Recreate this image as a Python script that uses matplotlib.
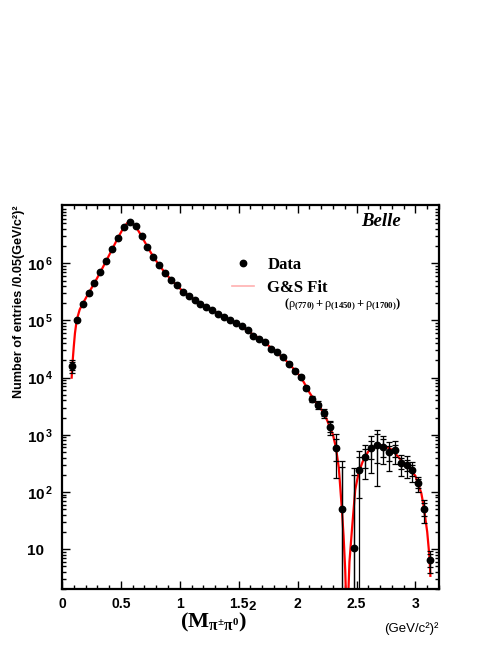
import numpy as np
import matplotlib
matplotlib.use("Agg")
import matplotlib.pyplot as plt
from matplotlib.lines import Line2D
from matplotlib.ticker import MultipleLocator, LogLocator, NullFormatter

plt.rcParams['font.family'] = ['Liberation Sans', 'DejaVu Sans']
plt.rcParams['mathtext.fontset'] = 'custom'
plt.rcParams['mathtext.bf'] = 'Liberation Sans:bold'
plt.rcParams['mathtext.rm'] = 'Liberation Serif:bold'
plt.rcParams['mathtext.it'] = 'Liberation Serif'

# data points (bin centres, 0.05 GeV^2 bins)
mass2 = [0.0875, 0.125, 0.175, 0.225, 0.275, 0.325, 0.375, 0.425, 0.475, 0.525,
         0.575, 0.625, 0.675, 0.725, 0.775, 0.825, 0.875, 0.925, 0.975, 1.025,
         1.075, 1.125, 1.175, 1.225, 1.275, 1.325, 1.375, 1.425, 1.475, 1.525,
         1.575, 1.625, 1.675, 1.725, 1.775, 1.825, 1.875, 1.925, 1.975, 2.025,
         2.075, 2.125, 2.175, 2.225, 2.275, 2.325, 2.375, 2.475, 2.525, 2.575,
         2.625, 2.675, 2.725, 2.775, 2.825, 2.875, 2.925, 2.975, 3.025, 3.075,
         3.125]
entries = [1.6e4, 1.02e5, 1.94e5, 2.99e5, 4.47e5, 7.05e5, 1.10e6, 1.76e6, 2.80e6, 4.31e6,
           5.21e6, 4.49e6, 3.0e6, 1.95e6, 1.29e6, 9.3e5, 6.77e5, 5.16e5, 4.12e5, 3.2e5,
           2.72e5, 2.3e5, 1.95e5, 1.74e5, 1.55e5, 1.3e5, 1.17e5, 1.0e5, 8.9e4, 7.85e4,
           6.7e4, 5.36e4, 4.75e4, 4.16e4, 3.18e4, 2.78e4, 2.27e4, 1.76e4, 1.33e4, 1.04e4,
           6.6e3, 4.24e3, 3.33e3, 2.39e3, 1.39e3, 597, 50, 10.4, 243, 416,
           583, 666, 622, 497, 545, 318, 298, 243, 143, 50.6,
           6.5]
err_total = [4000, 1500, 2500, 3500, 5000, 7000, 10000, 15000, 22000, 32000,
             38000, 34000, 25000, 17000, 12000, 9000, 7000, 6000, 5000, 4000,
             3500, 3000, 2700, 2500, 2300, 2100, 2000, 1800, 1700, 1600,
             1500, 1400, 1300, 1200, 1100, 1000, 900, 800, 700, 650,
             600, 450, 500, 420, 380, 420, 300, 250, 270, 245,
             370, 540, 315, 260, 235, 125, 120, 95, 42, 22,
             2.7]
err_stat = [2500, 900, 1500, 2100, 3000, 4200, 6000, 9000, 13000, 19000,
            23000, 20000, 15000, 10000, 7000, 5400, 4200, 3600, 3000, 2400,
            2100, 1800, 1600, 1500, 1400, 1300, 1200, 1100, 1000, 950,
            900, 850, 800, 700, 650, 600, 550, 500, 420, 400,
            350, 250, 250, 220, 250, 250, 225, 190, 165, 150,
            200, 350, 220, 150, 130, 70, 70, 55, 25, 13,
            1.6]

# G&S fit curve
fit_x = [0.082, 0.09, 0.10, 0.11, 0.125, 0.15, 0.175, 0.225, 0.275, 0.325,
         0.375, 0.425, 0.475, 0.525, 0.555, 0.575, 0.595, 0.625, 0.675, 0.725,
         0.775, 0.825, 0.875, 0.925, 0.975, 1.025, 1.1, 1.2, 1.3, 1.4,
         1.5, 1.6, 1.7, 1.8, 1.9, 2.0, 2.05, 2.1, 2.15, 2.2,
         2.25, 2.3, 2.325, 2.35, 2.376, 2.39, 2.404, 2.413, 2.421, 2.432,
         2.44, 2.461, 2.489, 2.517, 2.55, 2.574, 2.6, 2.65, 2.685, 2.72,
         2.75, 2.8, 2.85, 2.9, 2.95, 3.0, 3.05, 3.07, 3.1, 3.12,
         3.127]
fit_y = [1.0e4, 1.9e4, 3.5e4, 6.0e4, 1.02e5, 1.55e5, 1.95e5, 3.0e5, 4.5e5, 7.0e5,
         1.1e6, 1.75e6, 2.8e6, 4.3e6, 5.1e6, 5.25e6, 5.0e6, 4.45e6, 3.0e6, 1.95e6,
         1.3e6, 9.3e5, 6.8e5, 5.2e5, 4.1e5, 3.25e5, 2.5e5, 1.85e5, 1.42e5, 1.08e5,
         8.4e4, 6.1e4, 4.5e4, 3.0e4, 2.0e4, 1.2e4, 8.5e3, 5.5e3, 3.8e3, 2.8e3,
         1.8e3, 1.0e3, 600, 260, 48.6, 17, 4.3, 1.0, 0.1, 2.0,
         6.0, 21.7, 109, 213, 330, 416, 510, 610, 660, 650,
         620, 550, 420, 320, 262, 190, 95, 56, 20, 7,
         3.4]

xticks = [0, 0.5, 1, 1.5, 2, 2.5, 3]
xticklabels = ['0', '0.5', '1', '1.5', '2', '2.5', '3']
yticks = [10, 1e2, 1e3, 1e4, 1e5, 1e6]
yticklabels = ['10', r'$\mathbf{10^{\,2}}$', r'$\mathbf{10^{\,3}}$',
               r'$\mathbf{10^{\,4}}$', r'$\mathbf{10^{\,5}}$', r'$\mathbf{10^{\,6}}$']

fig = plt.figure(figsize=(4.98, 6.45), dpi=100)
ax = fig.add_axes([0.1245, 0.0868, 0.757, 0.5954])
ax.set_yscale('log')

ax.plot(fit_x, fit_y, color='red', lw=1.6, zorder=2)
ax.errorbar(mass2, entries, yerr=err_total, fmt='none', ecolor='black',
            elinewidth=0.9, capsize=2.0, capthick=0.9, zorder=3)
ax.errorbar(mass2, entries, yerr=err_stat, fmt='none', ecolor='black',
            elinewidth=0.9, capsize=2.0, capthick=0.9, zorder=3)
ax.plot(mass2, entries, 'o', color='black', ms=4.6, zorder=4)

ax.set_xlim(0, 3.2)
ax.set_ylim(2.0, 1.05e7)

ax.set_xticks(xticks, xticklabels)
ax.xaxis.set_minor_locator(MultipleLocator(0.1))
ax.set_yticks(yticks, yticklabels)
ax.yaxis.set_minor_locator(LogLocator(base=10, subs=np.arange(2, 10)))
ax.yaxis.set_minor_formatter(NullFormatter())

ax.tick_params(which='both', direction='in', top=True, right=True, width=1.0)
ax.tick_params(which='major', length=5.5)
ax.tick_params(which='minor', length=3)
ax.tick_params(axis='x', pad=6, labelsize=10)
ax.tick_params(axis='y', pad=25, labelsize=11)
for lab in ax.get_xticklabels():
    lab.set_fontweight('bold')
for lab in ax.get_yticklabels():
    lab.set_fontweight('bold')
    lab.set_horizontalalignment('left')
for sp in ax.spines.values():
    sp.set_linewidth(1.6)

ax.set_ylabel('Number of entries /0.05(GeV/c²)²', fontsize=9.1,
              fontweight='bold', loc='top')
ax.yaxis.set_label_coords(-0.098, 1.0)

# x label: (M_pi+-pi0)^2, the exponent sits high next to the 1.5 label
ax.text(0.49, -0.056, r'$\mathrm{(M_{\pi^{\pm}\pi^{0}})}$', transform=ax.transAxes,
        ha='right', va='top', fontsize=16)
ax.text(0.504, -0.046, '2', transform=ax.transAxes, ha='center', va='center',
        fontsize=9.5, fontweight='bold')
ax.text(1.0, -0.104, '(GeV/c²)²', transform=ax.transAxes, ha='right', va='center',
        fontsize=9.5)

ax.text(0.899, 0.956, 'Belle', transform=ax.transAxes, ha='right', va='center',
        fontsize=13.5, fontweight='bold', fontstyle='italic', family='Liberation Serif')

handles = [Line2D([], [], ls='none', marker='o', color='black', ms=4.6),
           Line2D([], [], color='#ffb0b0', lw=1.2)]
leg = ax.legend(handles, ['Data', 'G&S Fit'], loc='upper left',
                bbox_to_anchor=(0.452, 0.864), frameon=False, borderpad=0,
                borderaxespad=0, handlelength=1.3, handletextpad=0.8,
                labelspacing=0.4,
                prop={'family': 'Liberation Serif', 'weight': 'bold', 'size': 12})
ax.text(0.589, 0.741, r'$\mathit{(\rho_{(770)} + \rho_{(1450)} + \rho_{(1700)})}$',
        transform=ax.transAxes, ha='left', va='center', fontsize=9)

fig.savefig('out.png', dpi=100)
